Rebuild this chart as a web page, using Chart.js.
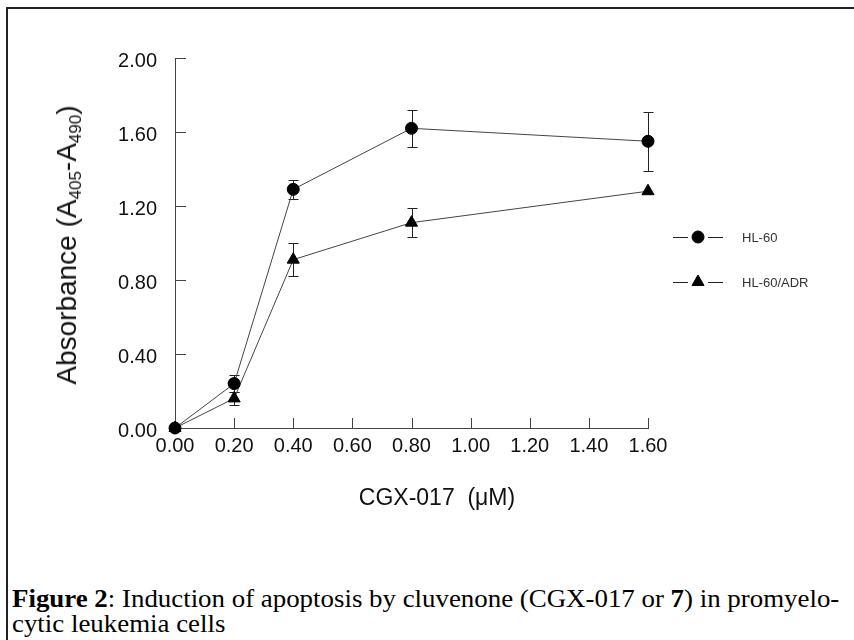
<!DOCTYPE html>
<html>
<head>
<meta charset="utf-8">
<script src="https://cdn.jsdelivr.net/npm/chart.js@4/dist/chart.umd.min.js"></script>
<style>
  html, body { margin: 0; padding: 0; background: #fff; }
  body { width: 854px; height: 640px; position: relative; overflow: hidden; }
  #frame { position: absolute; left: 6px; top: 7px; width: 900px; height: 700px;
           border-left: 2px solid #222; border-top: 2px solid #222; }
  #wrap { position: absolute; left: 0; top: 0; width: 854px; height: 520px; }
  #ytitle { position: absolute; left: 67px; top: 245px; white-space: nowrap;
            transform: translate(-50%, -50%) rotate(-90deg);
            font-family: "Liberation Sans", Arial, sans-serif; font-size: 28px; color: #111; line-height: 32px; }
  #ytitle sub { font-size: 17px; vertical-align: -5px; line-height: 0; }
  #xtitle { position: absolute; left: 437px; top: 497px; white-space: pre;
            transform: translate(-50%, -50%);
            font-family: "Liberation Sans", Arial, sans-serif; font-size: 23px; line-height: 23px; color: #111; }
  #caption { position: absolute; left: 12px; top: 586px; white-space: nowrap;
             transform-origin: 0 0; transform: scaleX(1.075);
             font-family: "Liberation Serif", "Times New Roman", serif; font-size: 25px; line-height: 25px; color: #000; }
</style>
</head>
<body>
<div id="frame"></div>
<div id="wrap"><canvas id="c" width="854" height="520"></canvas></div>
<div id="ytitle">Absorbance (A<sub>405</sub>-A<sub>490</sub>)</div>
<div id="xtitle">CGX-017  (μM)</div>
<div id="caption"><b>Figure 2</b>: Induction of apoptosis by cluvenone (CGX-017 or <b>7</b>) in promyelo-<br>cytic leukemia cells</div>
<script>
// ---- data ----
const concentrations = [0.00, 0.20, 0.40, 0.80, 1.60];
const hl60Values     = [0.00, 0.24, 1.29, 1.62, 1.55];
const hl60Errors     = [0.00, 0.045, 0.05, 0.10, 0.16];
const adrValues      = [0.00, 0.16, 0.91, 1.11, 1.28];
const adrErrors      = [0.00, 0.035, 0.09, 0.08, 0.00];
const seriesLabels   = ["HL-60", "HL-60/ADR"];
const xTickValues    = [0.00, 0.20, 0.40, 0.60, 0.80, 1.00, 1.20, 1.40, 1.60];
const yTickValues    = [0.00, 0.40, 0.80, 1.20, 1.60, 2.00];

const toPoints = (xs, ys) => xs.map((x, i) => ({ x: x, y: ys[i] }));
const errorSets = [hl60Errors, adrErrors];

const axisColor = '#444';

const errorBarPlugin = {
  id: 'errorBars',
  beforeDatasetsDraw(chart) {
    const ctx = chart.ctx, yScale = chart.scales.y;
    ctx.save();
    ctx.strokeStyle = '#222';
    ctx.lineWidth = 1;
    chart.data.datasets.forEach((ds, di) => {
      const meta = chart.getDatasetMeta(di);
      const errs = errorSets[di];
      meta.data.forEach((pt, j) => {
        const e = errs[j];
        if (!e) return;
        const v = ds.data[j].y;
        const x = Math.round(pt.x) + 0.5;
        const yTop = Math.round(yScale.getPixelForValue(v + e)) + 0.5;
        const yBot = Math.round(yScale.getPixelForValue(v - e)) + 0.5;
        ctx.beginPath();
        ctx.moveTo(x, yTop); ctx.lineTo(x, yBot);
        ctx.moveTo(x - 5, yTop); ctx.lineTo(x + 5, yTop);
        ctx.moveTo(x - 5, yBot); ctx.lineTo(x + 5, yBot);
        ctx.stroke();
      });
    });
    ctx.restore();
  }
};

const inwardTicksPlugin = {
  id: 'inwardTicks',
  beforeDatasetsDraw(chart) {
    const ctx = chart.ctx, xs = chart.scales.x, ys = chart.scales.y, area = chart.chartArea;
    ctx.save();
    ctx.strokeStyle = axisColor;
    ctx.lineWidth = 1;
    ctx.beginPath();
    xs.ticks.forEach(t => {
      const px = Math.round(xs.getPixelForValue(t.value)) + 0.5;
      ctx.moveTo(px, area.bottom); ctx.lineTo(px, area.bottom - 10);
    });
    ys.ticks.forEach(t => {
      const py = Math.round(ys.getPixelForValue(t.value)) + 0.5;
      ctx.moveTo(area.left, py); ctx.lineTo(area.left + 11, py);
    });
    ctx.stroke();
    ctx.restore();
  }
};

const legendRows = [179, 224]; // offset from top of plot area
const customLegendPlugin = {
  id: 'customLegend',
  afterDraw(chart) {
    const ctx = chart.ctx, area = chart.chartArea;
    ctx.save();
    chart.data.datasets.forEach((ds, i) => {
      const y = area.top + legendRows[i];
      const x0 = area.right + 25;
      ctx.strokeStyle = '#222';
      ctx.lineWidth = 1;
      ctx.beginPath();
      ctx.moveTo(x0, y + 0.5); ctx.lineTo(x0 + 15, y + 0.5);
      ctx.moveTo(x0 + 35, y + 0.5); ctx.lineTo(x0 + 50, y + 0.5);
      ctx.stroke();
      ctx.fillStyle = '#000';
      ctx.strokeStyle = '#000';
      Chart.helpers.drawPoint(ctx, { pointStyle: ds.pointStyle, radius: ds.pointRadius, rotation: 0, borderWidth: 1 }, x0 + 25, y);
      ctx.fillStyle = '#333';
      ctx.font = '13px "Liberation Sans", Arial, sans-serif';
      ctx.textBaseline = 'middle';
      ctx.textAlign = 'left';
      ctx.fillText(ds.label, x0 + 69, y + 1);
    });
    ctx.restore();
  }
};

const tickFont = { family: '"Liberation Sans", Arial, sans-serif', size: 20 };

new Chart(document.getElementById('c'), {
  type: 'line',
  data: {
    datasets: [
      { label: seriesLabels[0], data: toPoints(concentrations, hl60Values), clip: false,
        borderColor: '#444', borderWidth: 1, pointStyle: 'circle', pointRadius: 6,
        pointBackgroundColor: '#000', pointBorderColor: '#000', pointBorderWidth: 1, fill: false, tension: 0 },
      { label: seriesLabels[1], data: toPoints(concentrations, adrValues), clip: false,
        borderColor: '#444', borderWidth: 1, pointStyle: 'triangle', pointRadius: 7,
        pointBackgroundColor: '#000', pointBorderColor: '#000', pointBorderWidth: 1, fill: false, tension: 0 }
    ]
  },
  options: {
    responsive: false,
    animation: false,
    events: [],
    layout: { padding: { top: 58, right: 206, left: 0, bottom: 0 } },
    plugins: { legend: { display: false }, tooltip: { enabled: false } },
    scales: {
      x: {
        type: 'linear', min: 0, max: 1.6,
        afterBuildTicks: (s) => { s.ticks = xTickValues.map(v => ({ value: v })); },
        afterFit: (s) => { s.height = 92; },
        grid: { display: true, drawOnChartArea: false, drawTicks: false },
        border: { display: true, color: axisColor, width: 1 },
        ticks: { font: tickFont, color: '#111', padding: 6, maxRotation: 0,
                 callback: (v) => Number(v).toFixed(2) }
      },
      y: {
        type: 'linear', min: 0, max: 2,
        afterBuildTicks: (s) => { s.ticks = yTickValues.map(v => ({ value: v })); },
        afterFit: (s) => { s.width = 175; },
        grid: { display: true, drawOnChartArea: false, drawTicks: false },
        border: { display: true, color: axisColor, width: 1 },
        ticks: { font: tickFont, color: '#111', padding: 18, labelOffset: 3,
                 callback: (v) => Number(v).toFixed(2) }
      }
    }
  },
  plugins: [errorBarPlugin, inwardTicksPlugin, customLegendPlugin]
});
</script>
</body>
</html>
